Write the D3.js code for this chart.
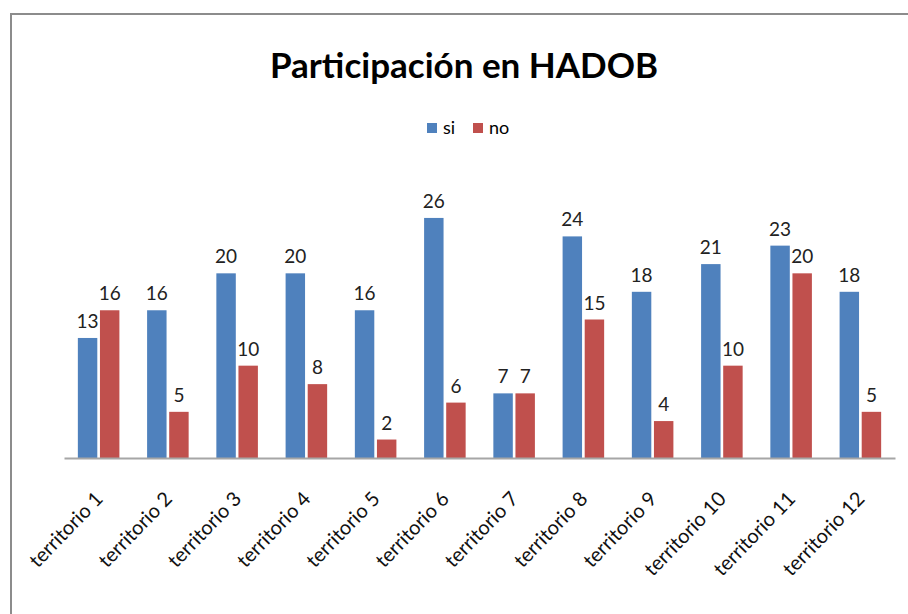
<!DOCTYPE html>
<html>
<head>
<meta charset="utf-8">
<script src="https://cdn.jsdelivr.net/npm/d3@7"></script>
<style>
  body { margin: 0; background: #fff; }
  text { font-family: Lato, "Open Sans", sans-serif; }
</style>
</head>
<body>
<div id="app"></div>
<script>
// data
const territorios = ['territorio 1', 'territorio 2', 'territorio 3', 'territorio 4', 'territorio 5', 'territorio 6',
  'territorio 7', 'territorio 8', 'territorio 9', 'territorio 10', 'territorio 11', 'territorio 12'];
const si = [13, 16, 20, 20, 16, 26, 7, 24, 18, 21, 23, 18];
const no = [16, 5, 10, 8, 2, 6, 7, 15, 4, 10, 20, 5];
const seriesNames = ['si', 'no'];
const colors = ['#4F81BD', '#C0504D'];

const width = 908, height = 614;
const svg = d3.select('#app').append('svg').attr('width', width).attr('height', height);

// chart frame (only top and left edges visible)
svg.append('path')
  .attr('d', `M11,${height} V14 H${width}`)
  .attr('fill', 'none')
  .attr('stroke', '#8c8c8c')
  .attr('stroke-width', 2);

// title
svg.append('text')
  .attr('x', 464).attr('y', 78)
  .attr('text-anchor', 'middle')
  .attr('font-size', 35).attr('font-weight', 'bold')
  .text('Participación en HADOB');

// legend
const legend = svg.append('g').attr('transform', 'translate(427,123)');
const legendX = [0, 46];
seriesNames.forEach((s, i) => {
  legend.append('rect').attr('x', legendX[i]).attr('y', 0).attr('width', 10).attr('height', 10).attr('fill', colors[i]);
  legend.append('text').attr('x', legendX[i] + 16).attr('y', 11).attr('font-size', 18).text(s);
});

// scales
const x0 = d3.scaleBand().domain(territorios).range([64, 895]).paddingInner(0.4).paddingOuter(0.2);
const x1 = d3.scaleBand().domain(seriesNames).range([0, x0.bandwidth()]).paddingInner(0.12);
const y = d3.scaleLinear().domain([0, 30]).range([458, 181]);

const rows = territorios.map((t, i) => ({ t, vals: [si[i], no[i]] }));

const groups = svg.append('g').selectAll('g').data(rows).join('g')
  .attr('transform', (d) => `translate(${x0(d.t)},0)`);

groups.selectAll('rect').data((d) => d.vals.map((v, i) => ({ v, s: seriesNames[i], i }))).join('rect')
  .attr('x', (d) => x1(d.s))
  .attr('y', (d) => y(d.v))
  .attr('width', x1.bandwidth())
  .attr('height', (d) => y(0) - y(d.v))
  .attr('fill', (d) => colors[d.i]);

groups.selectAll('text.val').data((d) => d.vals.map((v, i) => ({ v, s: seriesNames[i] }))).join('text')
  .attr('class', 'val')
  .attr('x', (d) => x1(d.s) + x1.bandwidth() / 2)
  .attr('y', (d) => y(d.v) - 10)
  .attr('text-anchor', 'middle')
  .attr('font-size', 19)
  .attr('fill', '#222')
  .text((d) => d.v);

// x axis
const axisX = d3.axisBottom(d3.scalePoint().domain(territorios).range([x0.range()[0], x0.range()[1]]).padding(0.5))
  .tickSize(0).tickPadding(0);
const xa = svg.append('g').attr('transform', 'translate(0,458)').call(axisX);
xa.select('.domain').attr('stroke', '#a6a6a6').attr('stroke-width', 2);
xa.selectAll('text')
  .attr('font-size', 20)
  .attr('fill', '#111')
  .attr('text-anchor', 'end')
  .attr('dy', 0)
  .attr('transform', 'translate(5,42) rotate(-46)');
</script>
</body>
</html>
